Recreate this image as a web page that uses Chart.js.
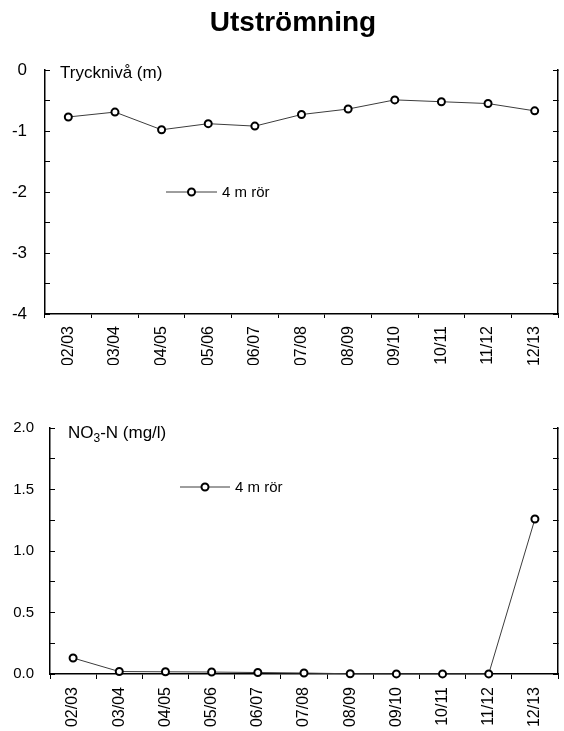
<!DOCTYPE html>
<html>
<head>
<meta charset="utf-8">
<script src="https://cdn.jsdelivr.net/npm/chart.js@4/dist/chart.umd.min.js"></script>
<style>
  html, body { margin: 0; padding: 0; background: #fff; }
  .panel { position: absolute; left: 0; width: 564px; }
  #levelPanel { top: 0; height: 365px; }
  #nitratePanel { top: 365px; height: 366px; }
</style>
</head>
<body>
<div class="panel" id="levelPanel"><canvas id="levelChart"></canvas></div>
<div class="panel" id="nitratePanel"><canvas id="nitrateChart"></canvas></div>

<script>
/* ---------- data ---------- */
const seasons = ["02/03", "03/04", "04/05", "05/06", "06/07", "07/08",
                 "08/09", "09/10", "10/11", "11/12", "12/13"];

// pressure level, 4 m pipe (m)
const levelValues = [-0.77, -0.69, -0.98, -0.88, -0.92, -0.73,
                     -0.64, -0.49, -0.52, -0.55, -0.67];

// NO3-N, 4 m pipe (mg/l)
const nitrateValues = [0.13, 0.02, 0.018, 0.016, 0.012, 0.008,
                       0.002, 0.001, 0.001, 0.001, 1.26];

const seriesName = "4 m rör";
const chartTitle = "Utströmning";
const levelCaption = "Trycknivå (m)";
const nitrateCaption = [{ text: "NO" }, { text: "3", sub: true }, { text: "-N (mg/l)" }];

const levelRange = [-4, 0];
const nitrateRange = [0, 2];

/* ---------- shared look ---------- */
Chart.defaults.font.family = "'Liberation Sans', Arial, sans-serif";
Chart.defaults.color = "#000";

const lineColor = "#3c3c3c";

// draws title, axis caption and the in-plot legend
const decor = {
  id: "decor",
  afterDraw(chart, args, opts) {
    const ctx = chart.ctx;
    ctx.save();
    ctx.fillStyle = "#000";

    if (opts.title) {
      ctx.font = "bold 28px 'Liberation Sans', Arial, sans-serif";
      ctx.textAlign = "center";
      ctx.textBaseline = "alphabetic";
      ctx.fillText(opts.title, opts.titleX, opts.titleY);
    }

    // axis caption, pieces may be subscript
    let x = opts.captionX;
    ctx.textAlign = "left";
    ctx.textBaseline = "alphabetic";
    opts.caption.forEach(part => {
      const size = part.sub ? 12 : 17;
      ctx.font = size + "px 'Liberation Sans', Arial, sans-serif";
      ctx.fillText(part.text, x, opts.captionY + (part.sub ? 4 : 0));
      x += ctx.measureText(part.text).width;
    });

    // legend entry
    const ds = chart.data.datasets[0];
    const lg = opts.legend;
    ctx.strokeStyle = ds.borderColor;
    ctx.lineWidth = 1;
    ctx.beginPath();
    ctx.moveTo(lg.x, lg.y);
    ctx.lineTo(lg.x + lg.len, lg.y);
    ctx.stroke();
    ctx.beginPath();
    ctx.arc(lg.x + lg.len / 2, lg.y, ds.pointRadius, 0, Math.PI * 2);
    ctx.fillStyle = ds.pointBackgroundColor;
    ctx.fill();
    ctx.strokeStyle = ds.pointBorderColor;
    ctx.lineWidth = ds.pointBorderWidth;
    ctx.stroke();
    ctx.fillStyle = "#000";
    ctx.font = "15px 'Liberation Sans', Arial, sans-serif";
    ctx.textBaseline = "middle";
    ctx.fillText(ds.label, lg.x + lg.len + 5, lg.y + 1);

    ctx.restore();
  }
};

function seriesDataset(values) {
  return {
    label: seriesName,
    data: values,
    borderColor: lineColor,
    borderWidth: 1,
    pointRadius: 3.5,
    pointBorderWidth: 2,
    pointBorderColor: "#000",
    pointBackgroundColor: "#fff",
    tension: 0,
    clip: false
  };
}

function buildOptions(cfg) {
  return {
    responsive: true,
    maintainAspectRatio: false,
    animation: false,
    layout: { padding: { top: cfg.top } },
    plugins: {
      legend: { display: false },
      tooltip: { enabled: false },
      decor: cfg.decor
    },
    scales: {
      x: {
        offset: true,
        grid: { offset: true, drawOnChartArea: false, tickLength: cfg.xTick, color: "#000" },
        border: { color: "#000", width: 1.5 },
        ticks: { autoSkip: false, minRotation: 90, maxRotation: 90,
                 font: { size: 16 }, padding: cfg.xPad },
        afterFit(s) { s.height = cfg.xHeight; }
      },
      y: {
        type: "linear",
        position: "left",
        min: cfg.range[0],
        max: cfg.range[1],
        grid: { drawOnChartArea: false, tickLength: -5, color: "#000" },
        border: { color: "#000", width: 1.5 },
        ticks: { stepSize: cfg.step, font: { size: cfg.yFont }, padding: cfg.yPad,
                 callback: cfg.label },
        afterFit(s) { s.width = cfg.left; }
      },
      y2: {
        type: "linear",
        position: "right",
        min: cfg.range[0],
        max: cfg.range[1],
        grid: { drawOnChartArea: false, tickLength: -5, color: "#000" },
        border: { color: "#000", width: 1.5 },
        ticks: { stepSize: cfg.step, display: false },
        afterFit(s) { s.width = cfg.right; }
      }
    }
  };
}

/* ---------- pressure level ---------- */
new Chart(document.getElementById("levelChart"), {
  type: "line",
  data: { labels: seasons, datasets: [seriesDataset(levelValues)] },
  options: buildOptions({
    top: 70, left: 45, right: 3, xHeight: 51, xTick: 4, xPad: 8,
    range: levelRange, step: 0.5, yFont: 17, yPad: 23,
    label: v => Number.isInteger(v) ? String(v) : "",
    decor: {
      title: chartTitle, titleX: 293, titleY: 31,
      caption: [{ text: levelCaption }], captionX: 60, captionY: 78,
      legend: { x: 166, y: 192, len: 51 }
    }
  }),
  plugins: [decor]
});

/* ---------- nitrate ---------- */
new Chart(document.getElementById("nitrateChart"), {
  type: "line",
  data: { labels: seasons, datasets: [seriesDataset(nitrateValues)] },
  options: buildOptions({
    top: 63, left: 50, right: 6, xHeight: 57, xTick: 5, xPad: 8,
    range: nitrateRange, step: 0.25, yFont: 15, yPad: 21,
    label: v => Math.abs(v * 2 - Math.round(v * 2)) < 1e-9 ? v.toFixed(1) : "",
    decor: {
      caption: nitrateCaption, captionX: 68, captionY: 73,
      legend: { x: 180, y: 122, len: 50 }
    }
  }),
  plugins: [decor]
});
</script>
</body>
</html>
